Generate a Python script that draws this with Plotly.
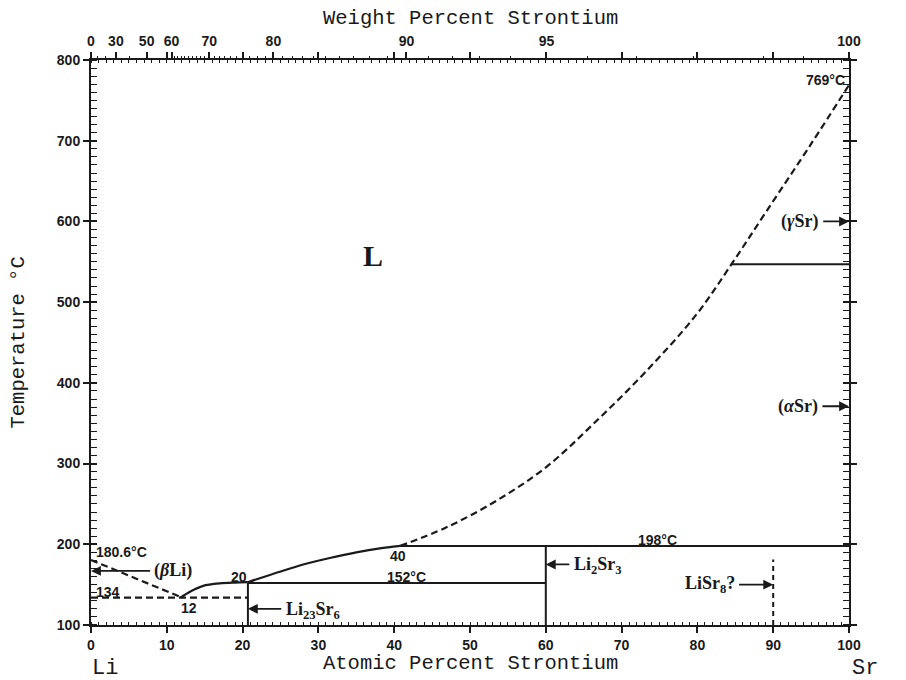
import plotly.graph_objects as go

# ---------------- data (atomic % Sr, temperature degC) ----------------
liq_li_x = [0, 12]
liq_li_y = [180.6, 134]

eut_x = [0, 20.7]
eut_y = [134, 134]

liq_low_x = [11.8, 13.0, 14.8, 17.0, 19.0, 20.7]
liq_low_y = [134, 141, 148.5, 151.5, 152.5, 153]

liq_mid_x = [20.7, 24.9, 28.0, 31.5, 35.0, 38.1, 40.8]
liq_mid_y = [153, 166, 175, 183, 190, 195, 198]

liq_high_x = [40.8, 46.9, 53.5, 60.1, 66.7, 73.3, 79.9, 84.5, 89.0, 95.0, 100]
liq_high_y = [198, 221, 254, 296, 353, 415, 485, 547, 611, 696, 769]

peri_152_x = [20.7, 60]
peri_152_y = [152, 152]

eut_198_x = [40.8, 100]
eut_198_y = [198, 198]

trans_547_x = [84.5, 100]
trans_547_y = [547, 547]

li23sr6_x = [20.7, 20.7]
li23sr6_y = [100, 152]

li2sr3_x = [60, 60]
li2sr3_y = [100, 198]

lisr8_x = [90, 90]
lisr8_y = [100, 181]

# arrows: (head x, head y, tail x)
arrow_head_x = [0, 20.7, 60, 90, 100, 100]
arrow_head_y = [167, 120, 175, 150, 600, 371]
arrow_tail_x = [8.0, 25.3, 63.3, 85.3, 96.4, 96.3]

# labels
label_text = ["180.6°C", "134", "12", "20", "40", "152°C", "198°C", "769°C", "547°C"]
label_x = [0.4, 0.4, 12.9, 19.5, 40.5, 41.6, 74.8, 99.7, 101.0]
label_y = [191, 141, 121, 160, 185.5, 160, 205, 775, 547]
label_anchor = ["left", "left", "center", "center", "center", "center", "center", "right", "left"]

phase_text = ["(<i>β</i>Li)", "Li<sub>23</sub>Sr<sub>6</sub>", "Li<sub>2</sub>Sr<sub>3</sub>",
              "LiSr<sub>8</sub>?", "(<i>γ</i>Sr)", "(<i>α</i>Sr)", "L"]
phase_x = [8.1, 25.4, 63.4, 85.2, 96.3, 96.2, 37.2]
phase_y = [167, 118.5, 173.5, 150, 600, 371, 558]
phase_anchor = ["left", "left", "left", "right", "right", "right", "center"]

# ticks
x_ticks = [0, 10, 20, 30, 40, 50, 60, 70, 80, 90, 100]
y_ticks = [100, 200, 300, 400, 500, 600, 700, 800]
wt_labels = [0, 30, 50, 60, 70, 80, 90, 95, 100]
wt_minor = [10, 20, 40] + list(range(61, 100)) + [99.5]

M_LI, M_SR = 6.941, 87.62


def wt_to_at(w):
    w = w / 100.0
    if w >= 1:
        return 100.0
    a = (w / M_SR) / (w / M_SR + (1 - w) / M_LI)
    return 100.0 * a


wt_pos = [wt_to_at(w) for w in wt_labels]
wt_minor_pos = [wt_to_at(w) for w in wt_minor if w not in wt_labels]

# ---------------- figure ----------------
INK = "#1a1a1a"
fig = go.Figure()


def add_line(xs, ys, dash="solid", width=2.2, smooth=0.8):
    fig.add_trace(go.Scatter(x=xs, y=ys, mode="lines",
                             line=dict(color=INK, width=width, dash=dash, shape="spline", smoothing=smooth),
                             hoverinfo="skip", showlegend=False))


DASH = "7px,4px"
add_line(liq_li_x, liq_li_y, DASH)
add_line(eut_x, eut_y, DASH)
add_line(liq_low_x, liq_low_y)
add_line(liq_mid_x, liq_mid_y)
add_line(liq_high_x, liq_high_y, DASH, smooth=1.0)
add_line(peri_152_x, peri_152_y, width=2)
add_line(eut_198_x, eut_198_y, width=2)
add_line(trans_547_x, trans_547_y, width=2)
add_line(li23sr6_x, li23sr6_y, width=2)
add_line(li2sr3_x, li2sr3_y, width=2)
add_line(lisr8_x, lisr8_y, "5px,4px", width=2)

# invisible trace to bind top axis
fig.add_trace(go.Scatter(x=[0, 100], y=[100, 100], xaxis="x2", mode="markers",
                         marker=dict(opacity=0), hoverinfo="skip", showlegend=False))

annotations = []
for hx, hy, tx in zip(arrow_head_x, arrow_head_y, arrow_tail_x):
    annotations.append(dict(x=hx, y=hy, ax=tx, ay=hy, xref="x", yref="y", axref="x", ayref="y",
                            text="", showarrow=True, arrowhead=2, arrowsize=1.1, arrowwidth=1.8,
                            arrowcolor=INK))

for t, x, y, an in zip(label_text, label_x, label_y, label_anchor):
    annotations.append(dict(x=x, y=y, text="<b>" + t + "</b>", showarrow=False, xanchor=an,
                            yanchor="middle", font=dict(family="Liberation Sans", size=14, color=INK)))

for t, x, y, an in zip(phase_text, phase_x, phase_y, phase_anchor):
    size = 30 if t == "L" else 18
    annotations.append(dict(x=x, y=y, text=t, showarrow=False, xanchor=an, yanchor="middle",
                            font=dict(family="Liberation Serif", size=size, color=INK, weight="bold")))

TITLE_FONT = dict(family="Liberation Mono", size=20.5, color=INK)
annotations += [
    dict(xref="paper", yref="paper", x=0.5, y=0.0, yshift=-38, xanchor="center", yanchor="middle",
         text="Atomic Percent Strontium", showarrow=False, font=TITLE_FONT),
    dict(xref="paper", yref="paper", x=0.5, y=1.0, yshift=42, xanchor="center", yanchor="middle",
         text="Weight Percent Strontium", showarrow=False, font=TITLE_FONT),
    dict(xref="paper", yref="paper", x=0.0, y=0.0, xshift=14, yshift=-43, xanchor="center",
         yanchor="middle", text="Li", showarrow=False,
         font=dict(family="Liberation Mono", size=22, color=INK)),
    dict(xref="paper", yref="paper", x=1.0, y=0.0, xshift=16, yshift=-43, xanchor="center",
         yanchor="middle", text="Sr", showarrow=False,
         font=dict(family="Liberation Mono", size=22, color=INK)),
    dict(xref="paper", yref="paper", x=0.0, y=0.5, xshift=-73, xanchor="center", yanchor="middle",
         text="Temperature °C", textangle=-90, showarrow=False, font=TITLE_FONT),
]

TICK_FONT = dict(family="Liberation Sans", size=14, color=INK, weight="bold")
fig.update_layout(
    width=906, height=680,
    margin=dict(l=91, r=57, t=60, b=55),
    paper_bgcolor="white", plot_bgcolor="white",
    xaxis=dict(range=[0, 100], tickvals=x_ticks, showgrid=False, zeroline=False,
               showline=True, linecolor=INK, linewidth=2, mirror="allticks",
               ticks="outside", ticklen=6, tickwidth=1.5, tickcolor=INK,
               tickfont=TICK_FONT,
               minor=dict(dtick=1, ticks="inside", ticklen=3, tickwidth=1, tickcolor=INK)),
    xaxis2=dict(range=[0, 100], overlaying="x", side="top", tickmode="array", tickvals=wt_pos,
                ticktext=[str(w) for w in wt_labels], showgrid=False, zeroline=False,
                ticks="outside", ticklen=7, tickwidth=1.5, tickcolor=INK, tickfont=TICK_FONT,
                showline=False,
                minor=dict(tickmode="array", tickvals=wt_minor_pos, ticks="outside", ticklen=3,
                           tickwidth=1, tickcolor=INK)),
    yaxis=dict(range=[100, 800], tickvals=y_ticks, showgrid=False, zeroline=False,
               showline=True, linecolor=INK, linewidth=2, mirror="allticks",
               ticks="outside", ticklen=6, tickwidth=1.5, tickcolor=INK, tickfont=TICK_FONT,
               minor=dict(dtick=10, ticks="inside", ticklen=4, tickwidth=1, tickcolor=INK)),
    annotations=annotations,
)

fig.write_html("out.html")
